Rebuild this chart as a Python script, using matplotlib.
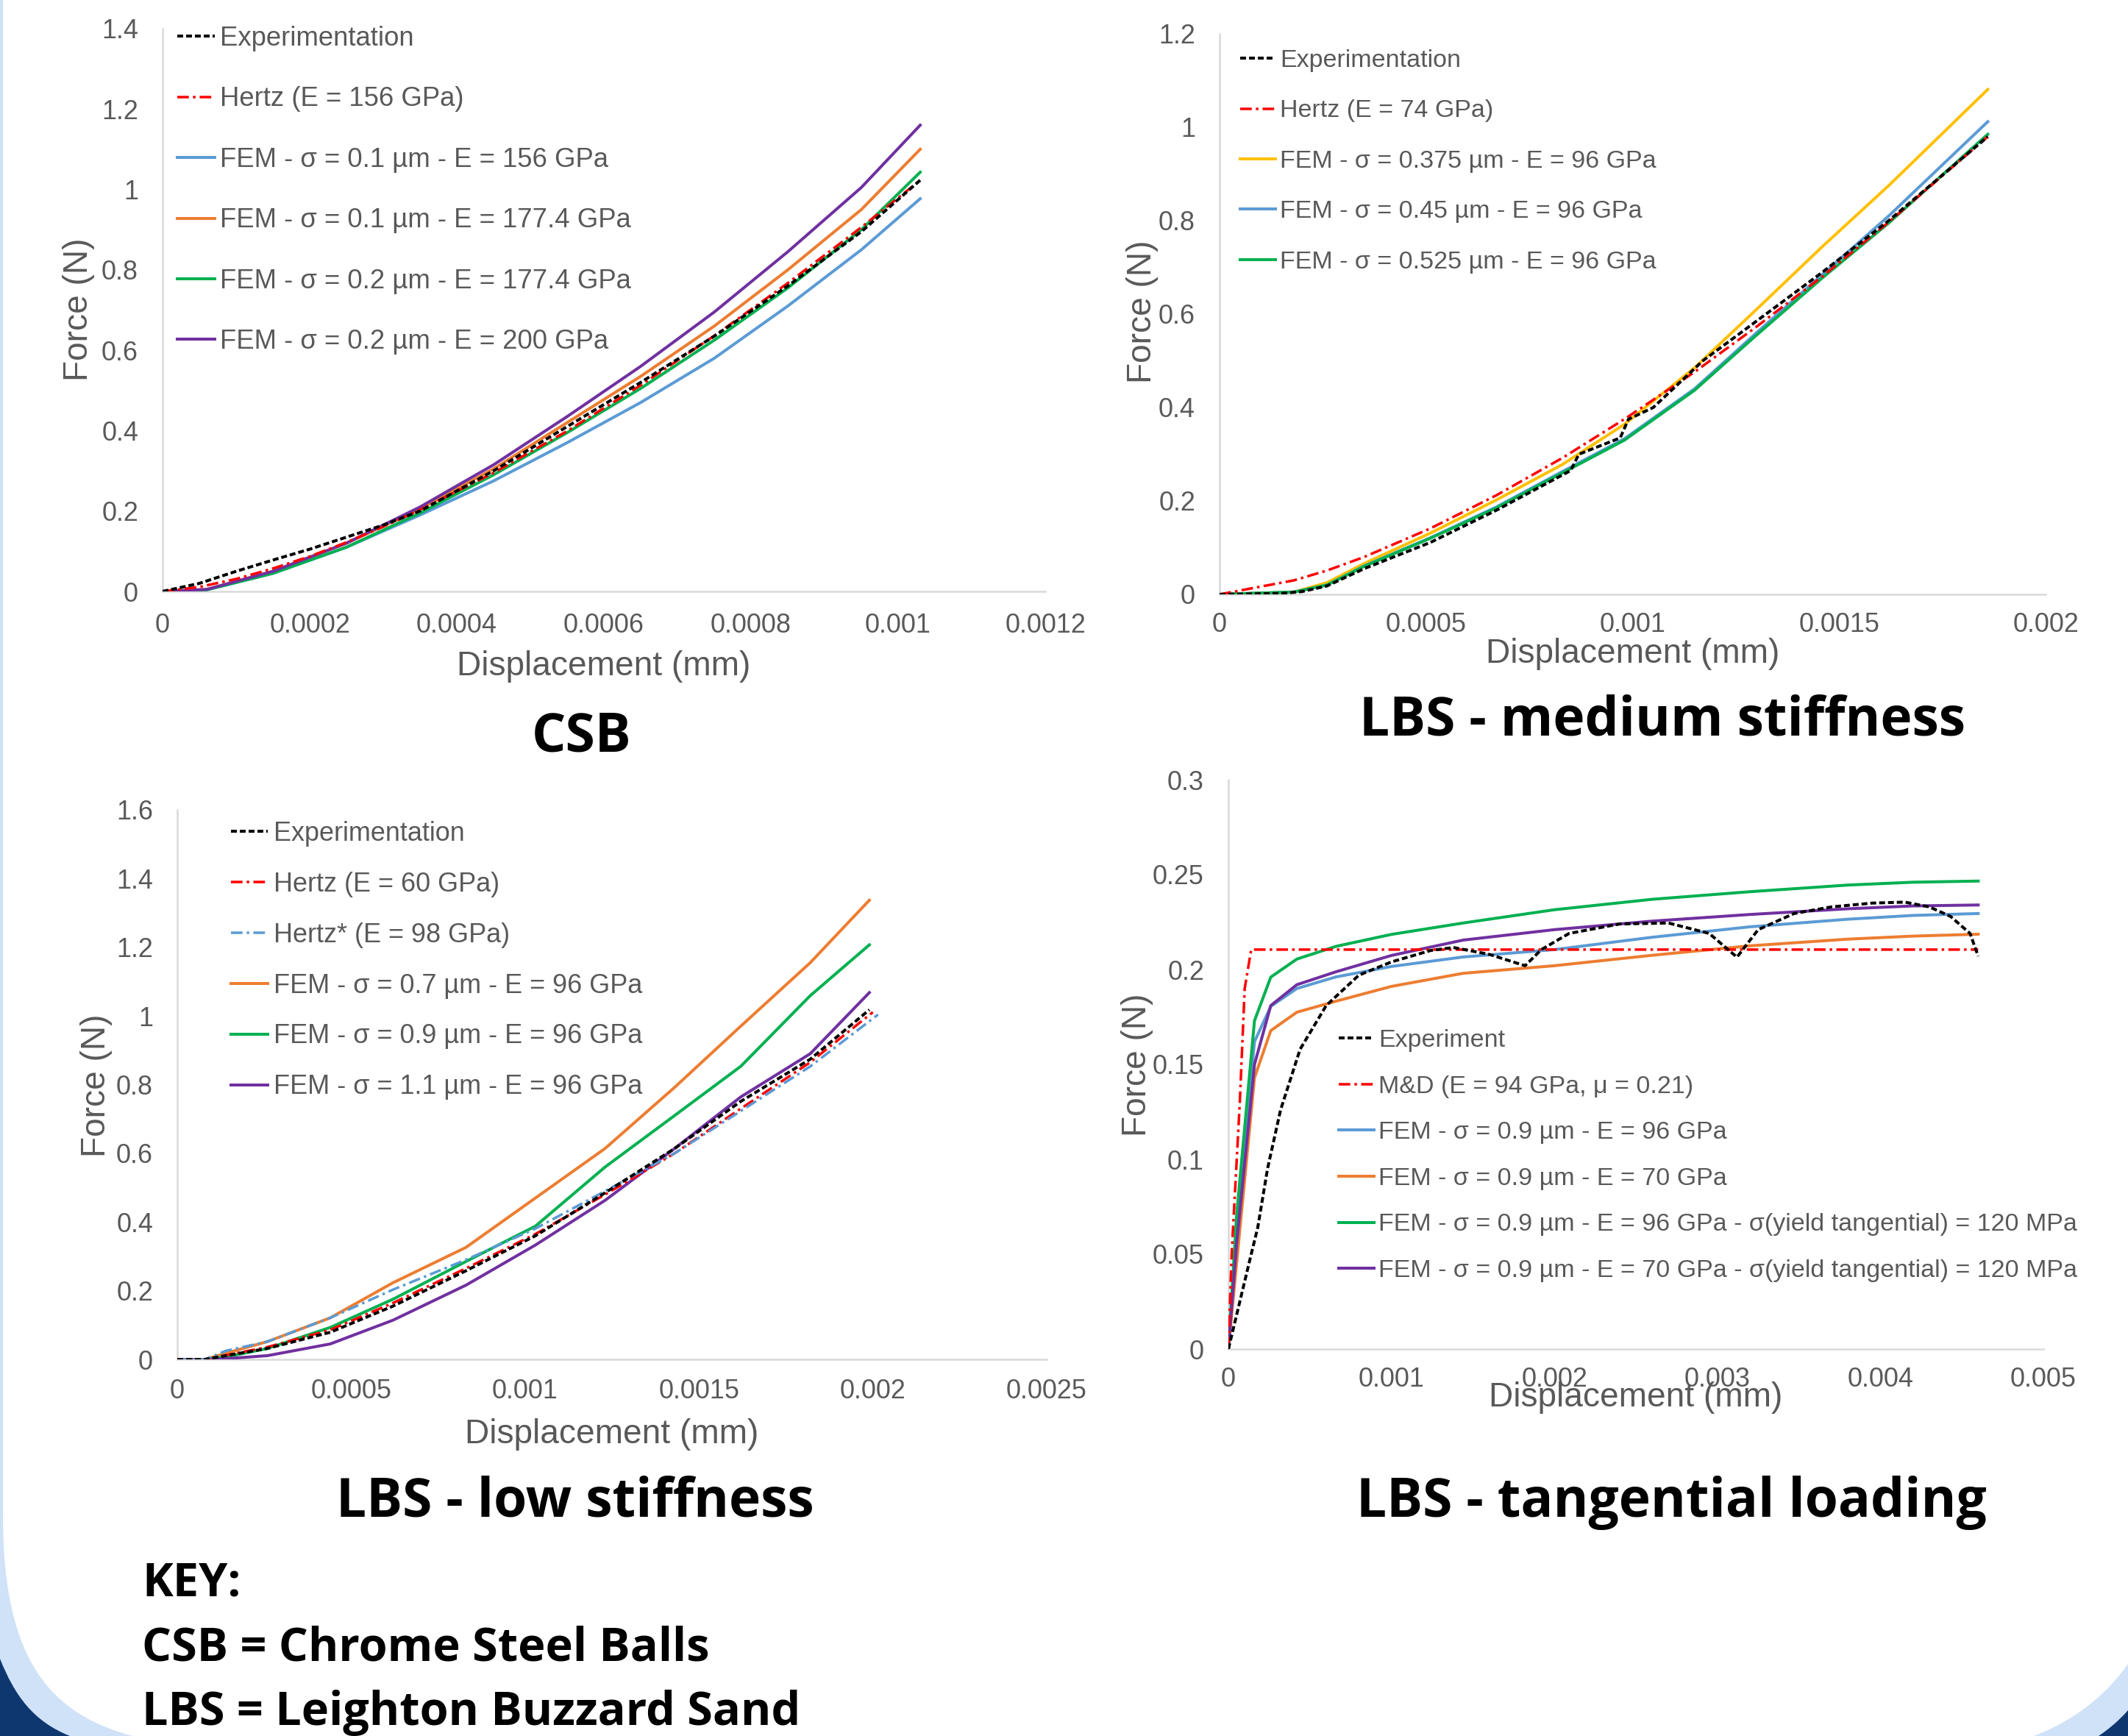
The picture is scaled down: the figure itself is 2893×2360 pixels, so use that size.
import numpy as np
import matplotlib
matplotlib.use("Agg")
import matplotlib.pyplot as plt
from matplotlib.path import Path
from matplotlib.patches import PathPatch

W, H = 2893, 2360

# ---------------- CSB ----------------
csb_fem_x = [0, 0.00006, 0.00015, 0.00025, 0.00035, 0.00045, 0.00055, 0.00065, 0.00075, 0.00085, 0.00095, 0.00103]
csb_fem_01_156 = [0, 0.004, 0.045, 0.11, 0.19, 0.275, 0.37, 0.47, 0.58, 0.71, 0.85, 0.977]
csb_fem_01_177 = [0, 0.005, 0.05, 0.12, 0.205, 0.305, 0.42, 0.535, 0.66, 0.8, 0.95, 1.10]
csb_fem_02_177 = [0, 0.004, 0.045, 0.11, 0.195, 0.29, 0.395, 0.505, 0.625, 0.755, 0.9, 1.043]
csb_fem_02_200 = [0, 0.005, 0.05, 0.12, 0.21, 0.315, 0.435, 0.56, 0.695, 0.845, 1.005, 1.16]
csb_exp_x = [0, 0.00005, 0.0001, 0.00015, 0.0002, 0.00025, 0.0003, 0.00035, 0.00045, 0.00055, 0.00065, 0.00075, 0.00085, 0.00095, 0.00103]
csb_exp = [0, 0.02, 0.05, 0.078, 0.105, 0.135, 0.165, 0.2, 0.3, 0.41, 0.52, 0.635, 0.76, 0.895, 1.023]
csb_hertz = [0, 0.011, 0.031, 0.057, 0.087, 0.122, 0.161, 0.203, 0.295, 0.399, 0.513, 0.636, 0.767, 0.906, 1.023]

# ---------------- LBS medium stiffness ----------------
med_x = [0, 0.00018, 0.00026, 0.00035, 0.00051, 0.00067, 0.00083, 0.00098, 0.00115, 0.0013, 0.00146, 0.00162, 0.00186]
med_fem_0375 = [0, 0.005, 0.025, 0.066, 0.131, 0.202, 0.278, 0.364, 0.485, 0.61, 0.745, 0.875, 1.081]
med_fem_045 = [0, 0.005, 0.02, 0.061, 0.121, 0.187, 0.263, 0.333, 0.44, 0.56, 0.685, 0.81, 1.012]
med_fem_0525 = [0, 0.005, 0.02, 0.06, 0.12, 0.185, 0.26, 0.33, 0.437, 0.555, 0.678, 0.795, 0.985]
med_hertz = [0, 0.03, 0.051, 0.08, 0.141, 0.212, 0.292, 0.375, 0.476, 0.573, 0.681, 0.797, 0.98]
med_exp_x = [0, 0.00015, 0.0002, 0.00026, 0.00035, 0.00051, 0.00067, 0.00085, 0.00087, 0.00097, 0.00099, 0.00105, 0.00117, 0.0013, 0.00146, 0.00162, 0.00186]
med_exp = [0, 0.002, 0.006, 0.018, 0.055, 0.111, 0.18, 0.265, 0.30, 0.335, 0.375, 0.40, 0.50, 0.585, 0.69, 0.80, 0.98]

# ---------------- LBS low stiffness ----------------
low_x = [0, 0.00008, 0.00014, 0.00026, 0.00044, 0.00062, 0.00083, 0.00103, 0.00123, 0.00143, 0.00162, 0.00182, 0.00199]
low_fem_07 = [0, 0, 0.018, 0.052, 0.121, 0.223, 0.326, 0.47, 0.614, 0.792, 0.97, 1.155, 1.337]
low_fem_09 = [0, 0, 0.007, 0.032, 0.093, 0.175, 0.285, 0.388, 0.56, 0.71, 0.853, 1.059, 1.207]
low_fem_11 = [0, 0, 0.002, 0.011, 0.045, 0.114, 0.216, 0.333, 0.463, 0.614, 0.764, 0.89, 1.068]
low_exp = [0, 0, 0.011, 0.032, 0.079, 0.155, 0.258, 0.36, 0.485, 0.614, 0.751, 0.874, 1.018]
low_hertz_x = [0, 0.00008, 0.00014, 0.00026, 0.00044, 0.00062, 0.00083, 0.00103, 0.00123, 0.00143, 0.00162, 0.00182, 0.002]
low_hertz = [0, 0, 0.012, 0.036, 0.086, 0.164, 0.265, 0.365, 0.48, 0.6, 0.73, 0.865, 1.011]
low_hertz2_x = [0, 0.00008, 0.00014, 0.00026, 0.00044, 0.00062, 0.00083, 0.00103, 0.00123, 0.00143, 0.00162, 0.00182, 0.002015]
low_hertz2 = [0, 0, 0.025, 0.052, 0.121, 0.203, 0.29, 0.381, 0.49, 0.6, 0.723, 0.853, 1.004]

# ---------------- LBS tangential loading ----------------
tan_x = [0, 0.00005, 0.00016, 0.00026, 0.00042, 0.00066, 0.001, 0.00144, 0.002, 0.0026, 0.0032, 0.0038, 0.0042, 0.0046]
tan_fem_96 = [0, 0.06, 0.162, 0.1806, 0.19, 0.1961, 0.2016, 0.2066, 0.2105, 0.217, 0.2225, 0.2265, 0.2285, 0.2295]
tan_fem_70 = [0, 0.045, 0.143, 0.1678, 0.1775, 0.1833, 0.1911, 0.198, 0.202, 0.2075, 0.2125, 0.216, 0.2176, 0.2186]
tan_fem_96_y = [0, 0.07, 0.173, 0.196, 0.2055, 0.2122, 0.2185, 0.2245, 0.2315, 0.237, 0.241, 0.2445, 0.246, 0.2466]
tan_fem_70_y = [0, 0.055, 0.15, 0.181, 0.192, 0.1988, 0.2074, 0.2155, 0.221, 0.2255, 0.229, 0.232, 0.2335, 0.234]
tan_md_x = [0, 0.00002, 0.00007, 0.0001, 0.00014, 0.0046]
tan_md = [0, 0.05, 0.13, 0.19, 0.2105, 0.2105]
tan_exp_x = [0, 0.00007, 0.00014, 0.00018, 0.00024, 0.00032, 0.00044, 0.0006, 0.0008, 0.001, 0.00124, 0.00138,
             0.0016, 0.00182, 0.00192, 0.00209, 0.0024, 0.0027, 0.00295, 0.00312, 0.00325, 0.00347, 0.0037,
             0.00395, 0.00415, 0.0043, 0.00443, 0.00455, 0.0046]
tan_exp = [0, 0.025, 0.05, 0.064, 0.095, 0.126, 0.158, 0.181, 0.197, 0.204, 0.21, 0.2116,
           0.208, 0.202, 0.2105, 0.219, 0.224, 0.2245, 0.219, 0.2065, 0.221, 0.2295, 0.233,
           0.235, 0.2355, 0.233, 0.228, 0.219, 0.207]

# tick labels
csb_xticks = ["0", "0.0002", "0.0004", "0.0006", "0.0008", "0.001", "0.0012"]
csb_yticks = ["0", "0.2", "0.4", "0.6", "0.8", "1", "1.2", "1.4"]
med_xticks = ["0", "0.0005", "0.001", "0.0015", "0.002"]
med_yticks = ["0", "0.2", "0.4", "0.6", "0.8", "1", "1.2"]
low_xticks = ["0", "0.0005", "0.001", "0.0015", "0.002", "0.0025"]
low_yticks = ["0", "0.2", "0.4", "0.6", "0.8", "1", "1.2", "1.4", "1.6"]
tan_xticks = ["0", "0.001", "0.002", "0.003", "0.004", "0.005"]
tan_yticks = ["0", "0.05", "0.1", "0.15", "0.2", "0.25", "0.3"]

BLUE = "#5b9bd5"
ORANGE = "#ed7d31"
GREEN = "#00b050"
PURPLE = "#7030a0"
YELLOW = "#ffc000"
RED = "#ff0000"
GREY = "#595959"

plt.rcParams['font.family'] = ['Liberation Sans', 'DejaVu Sans']

fig = plt.figure(figsize=(W / 72, H / 72), dpi=72)
fig.patch.set_facecolor("white")


def fx(x):
    return x / W


def fy(y):
    return 1 - y / H


def make_axes(l, r, t, b, xt, yt, pad_x):
    ax = fig.add_axes([fx(l), fy(b), (r - l) / W, (b - t) / H])
    ax.set_facecolor("none")
    xs = [float(s) for s in xt]
    ys = [float(s) for s in yt]
    ax.set_xlim(xs[0], xs[-1])
    ax.set_ylim(ys[0], ys[-1])
    ax.set_xticks(xs)
    ax.set_xticklabels(xt)
    ax.set_yticks(ys)
    ax.set_yticklabels(yt)
    ax.tick_params(length=0, labelsize=36, labelcolor=GREY)
    ax.tick_params(axis='x', pad=pad_x)
    ax.tick_params(axis='y', pad=33)
    for s in ["top", "right"]:
        ax.spines[s].set_visible(False)
    for s in ["left", "bottom"]:
        ax.spines[s].set_color("#d9d9d9")
        ax.spines[s].set_linewidth(2.5)
    return ax


def exp_line(ax, x, y, label):
    ax.plot(x, y, color="black", lw=4, dashes=(2, 1), label=label, zorder=5)


def hertz_line(ax, x, y, label, color=RED):
    ax.plot(x, y, color=color, lw=3.5, dashes=(4.5, 1.6, 1, 1.6), label=label, zorder=4)


def fem_line(ax, x, y, label, color):
    ax.plot(x, y, color=color, lw=4, label=label, zorder=3)


def legend(ax, x, y, spacing, size=35):
    ax.legend(loc="upper left", bbox_to_anchor=(fx(x), fy(y)), bbox_transform=fig.transFigure,
              frameon=False, borderpad=0, borderaxespad=0, handlelength=1.4, handletextpad=0.2,
              labelspacing=spacing, fontsize=size, labelcolor=GREY)


def axis_labels(ax, xlab_pos, ylab_pos):
    fig.text(fx(xlab_pos[0]), fy(xlab_pos[1]), "Displacement (mm)", ha="center", va="center",
             fontsize=46, color=GREY)
    fig.text(fx(ylab_pos[0]), fy(ylab_pos[1]), "Force (N)", ha="center", va="center",
             fontsize=46, color=GREY, rotation=90)


# CSB
ax1 = make_axes(221, 1421, 39, 804, csb_xticks, csb_yticks, 29)
exp_line(ax1, csb_exp_x, csb_exp, "Experimentation")
hertz_line(ax1, csb_exp_x, csb_hertz, "Hertz (E = 156 GPa)")
fem_line(ax1, csb_fem_x, csb_fem_01_156, "FEM - σ = 0.1 µm - E = 156 GPa", BLUE)
fem_line(ax1, csb_fem_x, csb_fem_01_177, "FEM - σ = 0.1 µm - E = 177.4 GPa", ORANGE)
fem_line(ax1, csb_fem_x, csb_fem_02_177, "FEM - σ = 0.2 µm - E = 177.4 GPa", GREEN)
fem_line(ax1, csb_fem_x, csb_fem_02_200, "FEM - σ = 0.2 µm - E = 200 GPa", PURPLE)
legend(ax1, 241, 35, 1.3, 36.5)
axis_labels(ax1, (821, 906), (107, 421))

# LBS medium
ax2 = make_axes(1658, 2781, 46, 808, med_xticks, med_yticks, 24)
exp_line(ax2, med_exp_x, med_exp, "Experimentation")
hertz_line(ax2, med_x, med_hertz, "Hertz (E = 74 GPa)")
fem_line(ax2, med_x, med_fem_0375, "FEM - σ = 0.375 µm - E = 96 GPa", YELLOW)
fem_line(ax2, med_x, med_fem_045, "FEM - σ = 0.45 µm - E = 96 GPa", BLUE)
fem_line(ax2, med_x, med_fem_0525, "FEM - σ = 0.525 µm - E = 96 GPa", GREEN)
legend(ax2, 1686, 67, 1.1, 34)
axis_labels(ax2, (2220, 889), (1553, 424))

# LBS low
ax3 = make_axes(241, 1423, 1101, 1848, low_xticks, low_yticks, 26)
exp_line(ax3, low_x, low_exp, "Experimentation")
hertz_line(ax3, low_hertz_x, low_hertz, "Hertz (E = 60 GPa)")
hertz_line(ax3, low_hertz2_x, low_hertz2, "Hertz* (E = 98 GPa)", BLUE)
fem_line(ax3, low_x, low_fem_07, "FEM - σ = 0.7 µm - E = 96 GPa", ORANGE)
fem_line(ax3, low_x, low_fem_09, "FEM - σ = 0.9 µm - E = 96 GPa", GREEN)
fem_line(ax3, low_x, low_fem_11, "FEM - σ = 1.1 µm - E = 96 GPa", PURPLE)
legend(ax3, 314, 1116, 0.94, 36)
axis_labels(ax3, (832, 1950), (131, 1476))

# LBS tangential
ax4 = make_axes(1670, 2778, 1060, 1834, tan_xticks, tan_yticks, 24)
exp_line(ax4, tan_exp_x, tan_exp, "Experiment")
hertz_line(ax4, tan_md_x, tan_md, "M&D (E = 94 GPa, μ = 0.21)")
fem_line(ax4, tan_x, tan_fem_96, "FEM - σ = 0.9 µm - E = 96 GPa", BLUE)
fem_line(ax4, tan_x, tan_fem_70, "FEM - σ = 0.9 µm - E = 70 GPa", ORANGE)
fem_line(ax4, tan_x, tan_fem_96_y, "FEM - σ = 0.9 µm - E = 96 GPa - σ(yield tangential) = 120 MPa", GREEN)
fem_line(ax4, tan_x, tan_fem_70_y, "FEM - σ = 0.9 µm - E = 70 GPa - σ(yield tangential) = 120 MPa", PURPLE)
legend(ax4, 1820, 1399, 0.93, 34)
axis_labels(ax4, (2224, 1900), (1546, 1448))

# titles
title_font = dict(family=["Open Sans", "DejaVu Sans"], weight="bold", fontsize=73, color="black")
fig.text(fx(791), fy(1022), "CSB", ha="center", va="baseline", **title_font)
fig.text(fx(2260), fy(1000), "LBS - medium stiffness", ha="center", va="baseline", **title_font)
fig.text(fx(782), fy(2062), "LBS - low stiffness", ha="center", va="baseline", **title_font)
fig.text(fx(2272), fy(2062), "LBS - tangential loading", ha="center", va="baseline", **title_font)

key_font = dict(family=["Open Sans", "DejaVu Sans"], weight="bold", fontsize=63, color="black")
fig.text(fx(193), fy(2170), "KEY:", ha="left", va="baseline", **key_font)
fig.text(fx(193), fy(2257), "CSB = Chrome Steel Balls", ha="left", va="baseline", **key_font)
fig.text(fx(193), fy(2345), "LBS = Leighton Buzzard Sand", ha="left", va="baseline", **key_font)


# background decoration (corners)
def shape(verts, codes, color):
    v = [(fx(a), fy(b)) for a, b in verts]
    p = PathPatch(Path(v, codes), facecolor=color, edgecolor="none", transform=fig.transFigure, zorder=-5)
    fig.add_artist(p)


LIGHT = "#cfe2f8"
NAVY = "#0e3770"
M, L, C, CL = Path.MOVETO, Path.LINETO, Path.CURVE4, Path.CLOSEPOLY
shape([(0, 0), (4, 0), (4, 2060), (4, 2260), (70, 2330), (180, 2360), (0, 2360), (0, 0)],
      [M, L, L, C, C, C, L, CL], LIGHT)
shape([(0, 2255), (20, 2305), (45, 2340), (95, 2360), (0, 2360), (0, 2255)],
      [M, C, C, C, L, CL], NAVY)
shape([(2893, 2262), (2870, 2295), (2830, 2335), (2765, 2360), (2893, 2360), (2893, 2262)],
      [M, C, C, C, L, CL], LIGHT)
shape([(2893, 2325), (2880, 2340), (2865, 2352), (2853, 2360), (2893, 2360), (2893, 2325)],
      [M, C, C, C, L, CL], NAVY)

fig.savefig("out.png", dpi=72, facecolor="white")
